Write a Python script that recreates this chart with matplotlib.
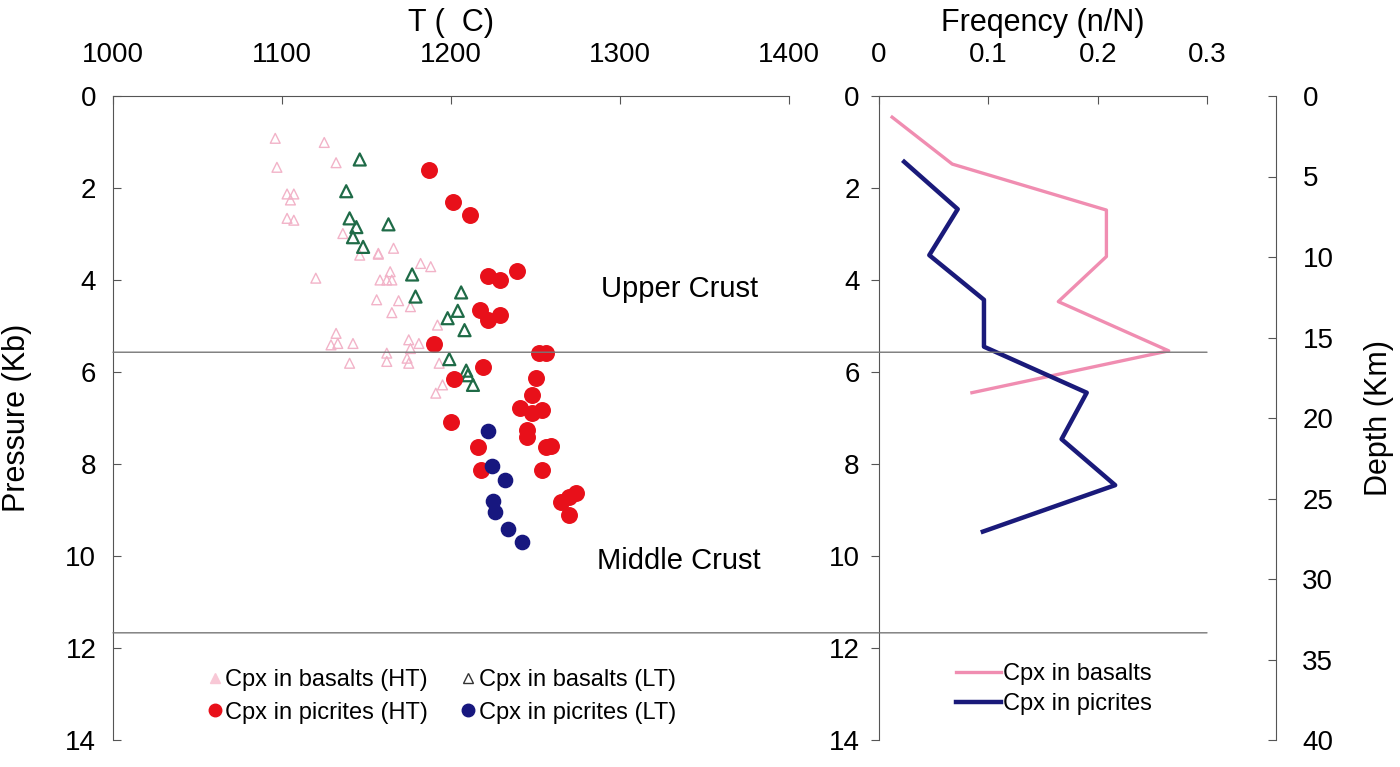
import numpy as np
import matplotlib.pyplot as plt
from matplotlib.patches import ConnectionPatch
from matplotlib.lines import Line2D

plt.rcParams['font.family'] = ['Liberation Sans', 'DejaVu Sans']

# Cpx in basalts (HT) - pink open triangles
bas_ht_T = [1096, 1125, 1097, 1132, 1103, 1107, 1105, 1103, 1107, 1136, 1146, 1157,
            1157, 1166, 1164, 1162, 1165, 1158, 1182, 1188, 1156, 1169, 1165, 1176,
            1192, 1120, 1132, 1133, 1129, 1142, 1140, 1162, 1162, 1175, 1176, 1174,
            1181, 1175, 1193, 1195, 1191]
bas_ht_P = [0.92, 1.01, 1.55, 1.45, 2.13, 2.13, 2.26, 2.66, 2.70, 2.99, 3.46, 3.42,
            3.44, 3.31, 3.82, 4.00, 4.00, 4.00, 3.64, 3.71, 4.43, 4.45, 4.71, 4.58,
            4.98, 3.96, 5.16, 5.38, 5.41, 5.38, 5.81, 5.59, 5.77, 5.30, 5.49, 5.70,
            5.38, 5.81, 5.81, 6.28, 6.46]

# Cpx in basalts (LT) - green open triangles
bas_lt_T = [1146, 1138, 1140, 1144, 1142, 1148, 1163, 1177, 1179, 1206, 1204, 1198,
            1208, 1199, 1209, 1210, 1213]
bas_lt_P = [1.38, 2.07, 2.66, 2.85, 3.07, 3.28, 2.79, 3.88, 4.36, 4.27, 4.67, 4.83,
            5.09, 5.72, 5.97, 6.07, 6.28]

# Cpx in picrites (HT) - red dots
pic_ht_T = [1187, 1201, 1211, 1222, 1229, 1239, 1217, 1222, 1229, 1190, 1252, 1256,
            1219, 1202, 1250, 1248, 1241, 1248, 1254, 1200, 1245, 1245, 1216, 1256,
            1259, 1218, 1254, 1265, 1270, 1274, 1270]
pic_ht_P = [1.61, 2.30, 2.59, 3.91, 4.00, 3.80, 4.65, 4.86, 4.75, 5.39, 5.58, 5.58,
            5.90, 6.16, 6.12, 6.51, 6.79, 6.90, 6.83, 7.09, 7.25, 7.42, 7.62, 7.64,
            7.61, 8.12, 8.12, 8.82, 8.71, 8.62, 9.11]

# Cpx in picrites (LT) - navy dots
pic_lt_T = [1222, 1224, 1232, 1225, 1226, 1234, 1242]
pic_lt_P = [7.28, 8.04, 8.35, 8.80, 9.04, 9.42, 9.69]

# frequency profiles
freq_bas_P = [0.46, 1.48, 2.48, 3.49, 4.47, 5.54, 6.45]
freq_bas = [0.012, 0.067, 0.208, 0.208, 0.164, 0.265, 0.085]
freq_pic_P = [1.43, 2.46, 3.46, 4.43, 5.45, 6.45, 7.46, 8.46, 9.47]
freq_pic = [0.023, 0.072, 0.046, 0.096, 0.096, 0.190, 0.167, 0.216, 0.095]

boundaries = [5.57, 11.67]

W, H = 1400, 767
fig = plt.figure(figsize=(14, 7.67), dpi=100)
ax1 = fig.add_axes([113 / W, 1 - 740 / H, (789 - 113) / W, (740 - 96) / H])
ax2 = fig.add_axes([879 / W, 1 - 740 / H, (1207 - 879) / W, (740 - 96) / H])

spine_c = '#555555'
fs_tick = 20
fs_lab = 22

# left panel
ax1.scatter(bas_ht_T, bas_ht_P, marker='^', s=50, facecolors='none',
            edgecolors='#f2b3c8', linewidths=1.0, zorder=3)
ax1.scatter(bas_lt_T, bas_lt_P, marker='^', s=75, facecolors='none',
            edgecolors='#1f6b47', linewidths=1.6, zorder=4)
ax1.scatter(pic_ht_T, pic_ht_P, marker='o', s=125, color='#e8101a', zorder=5)
ax1.scatter(pic_lt_T, pic_lt_P, marker='o', s=105, color='#17177f', zorder=5)

ax1.set_xlim(1000, 1400)
ax1.set_ylim(14, 0)
ax1.xaxis.tick_top()
ax1.xaxis.set_label_position('top')
ax1.set_xticks([1000, 1100, 1200, 1300, 1400])
ax1.set_yticks(range(0, 15, 2))
ax1.tick_params(axis='both', direction='in', length=6, color=spine_c,
                labelsize=fs_tick)
ax1.tick_params(axis='x', pad=20)
ax1.tick_params(axis='y', pad=12)
for s in ['right', 'bottom']:
    ax1.spines[s].set_visible(False)
for s in ['top', 'left']:
    ax1.spines[s].set_color(spine_c)
ax1.set_xlabel('T (  C)', fontsize=fs_lab, labelpad=8)
ax1.set_ylabel('Pressure (Kb)', fontsize=fs_lab)
ax1.yaxis.set_label_coords((32 - 113) / 676, 0.5)
ax1.text(1335, 4.2, 'Upper Crust', fontsize=21, ha='center', va='center')
ax1.text(1335, 10.1, 'Middle Crust', fontsize=21, ha='center', va='center')

h_bas_ht = Line2D([], [], ls='none', marker='^', ms=7, mfc='#f8c8d6', mec='#f8c8d6')
h_bas_lt = Line2D([], [], ls='none', marker='^', ms=7, mfc='none', mec='#333333', mew=1.0)
h_pic_ht = Line2D([], [], ls='none', marker='o', ms=9, color='#e8101a')
h_pic_lt = Line2D([], [], ls='none', marker='o', ms=9, color='#17177f')
ax1.legend([h_bas_ht, h_pic_ht, h_bas_lt, h_pic_lt],
           ['Cpx in basalts (HT)', 'Cpx in picrites (HT)',
            'Cpx in basalts (LT)', 'Cpx in picrites (LT)'],
           ncol=2, loc='center left', bbox_to_anchor=(0.105, 0.068), frameon=False,
           fontsize=17, handletextpad=0.05, handlelength=0.8, columnspacing=1.3,
           labelspacing=0.45)

# right panel
ax2.plot(freq_bas, freq_bas_P, color='#f08db1', lw=2.4, zorder=3, label='Cpx in basalts')
ax2.plot(freq_pic, freq_pic_P, color='#1a1a7a', lw=3.2, zorder=4, label='Cpx in picrites')
ax2.set_xlim(0, 0.3)
ax2.set_ylim(14, 0)
ax2.xaxis.tick_top()
ax2.xaxis.set_label_position('top')
ax2.set_xticks([0, 0.1, 0.2, 0.3])
ax2.set_xticklabels(['0', '0.1', '0.2', '0.3'])
ax2.set_yticks(range(0, 15, 2))
ax2.tick_params(axis='x', direction='in', length=6, color=spine_c,
                labelsize=fs_tick, pad=20)
ax2.tick_params(axis='y', direction='out', length=6, color=spine_c,
                labelsize=fs_tick, pad=8)
for s in ['right', 'bottom']:
    ax2.spines[s].set_visible(False)
for s in ['top', 'left']:
    ax2.spines[s].set_color(spine_c)
ax2.set_xlabel('Freqency (n/N)', fontsize=fs_lab, labelpad=8)
ax2.legend(loc='center left', bbox_to_anchor=(0.17, 0.079), frameon=False,
           fontsize=17, handlelength=1.9, handletextpad=0.1, labelspacing=0.35)

# depth axis
ax3 = ax2.twinx()
ax3.set_ylim(40, 0)
ax3.set_yticks(range(0, 41, 5))
for s in ['left', 'top', 'bottom']:
    ax3.spines[s].set_visible(False)
ax3.spines['right'].set_position(('axes', (1276 - 879) / (1207 - 879)))
ax3.spines['right'].set_color(spine_c)
ax3.tick_params(axis='y', direction='in', length=6, color=spine_c,
                labelsize=fs_tick, pad=19)
ax3.set_ylabel('Depth (Km)', fontsize=fs_lab, rotation=90)
ax3.yaxis.set_label_position('right')
ax3.yaxis.set_label_coords((1364 - 879) / 328, 0.5)

# crustal boundaries spanning both panels
for b in boundaries:
    con = ConnectionPatch(xyA=(1000, b), coordsA=ax1.transData,
                          xyB=(0.3, b), coordsB=ax2.transData,
                          color='#777777', lw=1.0, zorder=1)
    fig.add_artist(con)

fig.savefig('out.png', dpi=100)
